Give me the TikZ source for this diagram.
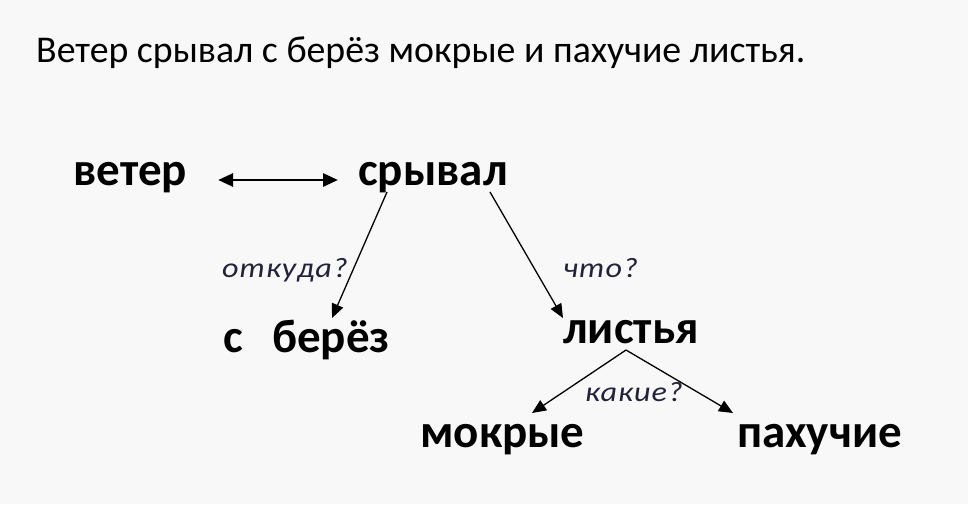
\documentclass[tikz,border=0pt]{standalone}
\usepackage{fontspec}
\usepackage{graphicx}
\setmainfont{Carlito}
\newfontfamily\lblfont[LetterSpace=3]{Carlito}
\newcommand{\qtxt}[1]{\scalebox{1.15}[1]{#1}}
\usetikzlibrary{arrows.meta,calc}
\definecolor{bg}{HTML}{F8F8F8}
\definecolor{lbl}{HTML}{22223A}
\begin{document}
\begin{tikzpicture}[x=1pt,y=-1pt,
  word/.style={anchor=base west,inner sep=0pt,font=\fontsize{47}{52}\selectfont\bfseries},
  qlabel/.style={anchor=base west,inner sep=0pt,text=lbl,font=\lblfont\fontsize{28}{30}\selectfont\itshape},
  arr/.style={-{Triangle[length=14pt,width=12pt]},line width=1.3pt},
  dbl/.style={{Triangle[length=15pt,width=13pt]}-{Triangle[length=15pt,width=13pt]},line width=2.8pt}]
\fill[bg] (0,0) rectangle (968,504);
\useasboundingbox (0,0) rectangle (968,504);
\node[anchor=base west,inner sep=0pt,font=\fontsize{37.8}{42}\selectfont] (title) at (36,62) {Ветер срывал с берёз мокрые и пахучие листья.};
\node[word] (veter) at (73,185) {ветер};
\node[word] (sryval) at (358,185) {срывал};
\node[word] (berez) at (223,352) {с\hspace{0.4em} берёз};
\node[word] (list) at (563,343) {листья};
\node[word] (mokr) at (420,447) {мокрые};
\node[word] (pah) at (737,447) {пахучие};
\node[qlabel] (q1) at (222,277) {\qtxt{откуда?}};
\node[qlabel] (q2) at (563,277) {\qtxt{что?}};
\node[qlabel] (q3) at (585,401) {\qtxt{какие?}};
\draw[dbl] ($(veter.base east)+(31,-5)$) -- ($(sryval.base west)+(-20,-5)$);
\draw[arr] ($(sryval.base west)+(29,7)$) -- ($(berez.base west)+(109,-34)$);
\draw[arr] ($(sryval.base west)+(132,7)$) -- ($(list.base west)+(0,-25)$);
\draw[arr] ($(list.base west)+(63,7)$) -- ($(mokr.base west)+(112,-34)$);
\draw[arr] ($(list.base west)+(63,7)$) -- ($(pah.base west)+(-4,-34)$);
\end{tikzpicture}
\end{document}
